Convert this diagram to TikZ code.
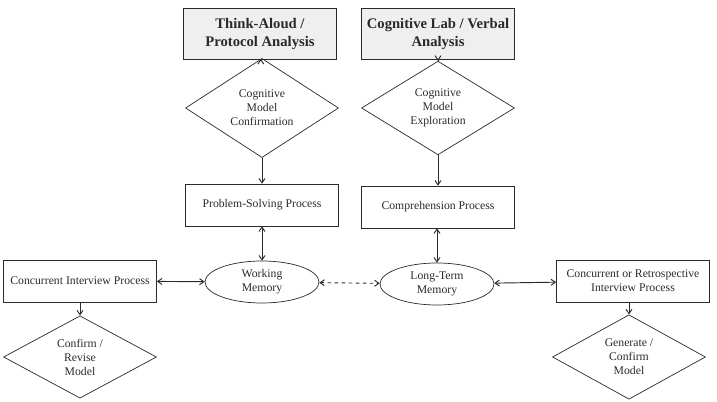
\documentclass[tikz,border=0pt]{standalone}
\usepackage{fontspec}
\setmainfont{Liberation Serif}
\usetikzlibrary{shapes.geometric, arrows.meta, positioning}
\definecolor{inkgray}{HTML}{2A2A2A}
\definecolor{titlefill}{HTML}{EFEFEF}
\tikzset{
  title/.style={rectangle, draw=inkgray, fill=titlefill, line width=0.8pt, minimum width=4.59cm, minimum height=1.53cm, align=center, font=\fontsize{12.5}{15}\selectfont\bfseries},
  process/.style={rectangle, draw=inkgray, line width=0.6pt, minimum width=4.59cm, minimum height=1.26cm, align=center, inner sep=1pt, font=\fontsize{10}{12}\selectfont},
  decision/.style={diamond, draw=inkgray, line width=0.6pt, minimum width=4.59cm, minimum height=2.19cm, inner sep=0pt, align=center, font=\fontsize{10}{12}\selectfont},
  memory/.style={ellipse, draw=inkgray, line width=0.6pt, minimum width=3.42cm, minimum height=1.26cm, inner sep=0pt, align=center, font=\fontsize{10}{12}\selectfont},
  arr/.style={-{Straight Barb[length=1.3mm, width=1.8mm]}, line width=0.8pt, draw=inkgray},
  darr/.style={{Straight Barb[length=1.3mm, width=1.8mm]}-{Straight Barb[length=1.3mm, width=1.8mm]}, line width=0.8pt, draw=inkgray},
}
\begin{document}
\begin{tikzpicture}[x=0.03cm, y=-0.03cm, text=inkgray]
  \useasboundingbox (0,0) rectangle (717,402);
  % two analysis columns
  \node[title] (think) at (260,34) {Think-Aloud /\\Protocol Analysis};
  \node[title] (coglab) at (438,34) {Cognitive Lab / Verbal\\Analysis};
  \node[decision] (confirm) at (262,108) {Cognitive\\Model\\Confirmation};
  \node[decision] (explore) at (438,108) {Cognitive\\Model\\Exploration};
  \node[process] (solving) at (262,205) {Problem-Solving Process};
  \node[process] (compr) at (438,207) {Comprehension Process};
  \node[memory] (working) at (262,282) {Working\\Memory};
  \node[memory] (longterm) at (437,284) {Long-Term\\Memory};
  % interview processes
  \node[process] (concur) at (80,281) {Concurrent Interview Process};
  \node[process] (retro) at (633,281) {Concurrent or Retrospective\\Interview Process};
  \node[decision] (revise) at (80,357) {Confirm /\\Revise\\Model};
  \node[decision] (generate) at (629,357) {Generate /\\Confirm\\Model};
  \draw[arr] (think) -- (confirm);
  \draw[arr] (coglab) -- (explore);
  \draw[arr] (confirm) -- (solving);
  \draw[arr] (explore) -- (compr);
  \draw[darr] (solving) -- (working);
  \draw[darr] (compr.south -| longterm.north) -- (longterm);
  \draw[darr] (concur) -- (working);
  \draw[darr] (longterm) -- (retro);
  \draw[darr, dashed] (working) -- (longterm);
  \draw[arr] (concur) -- (revise);
  \draw[arr] (generate.north |- retro.south) -- (generate);
\end{tikzpicture}
\end{document}
